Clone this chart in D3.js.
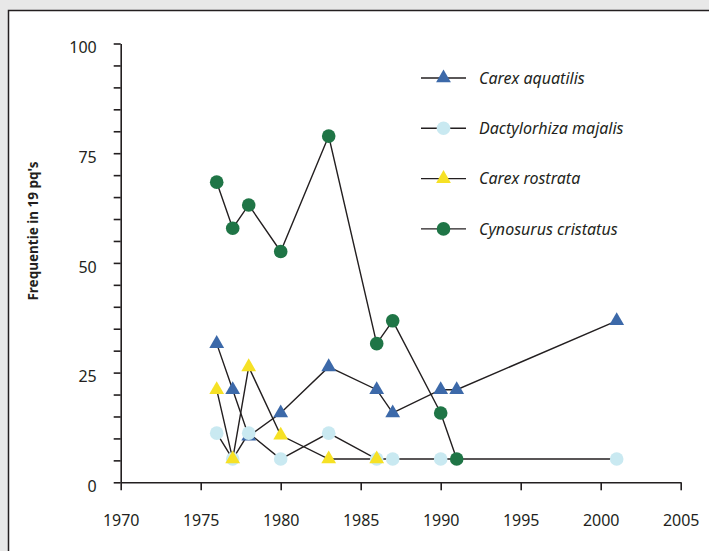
<!DOCTYPE html>
<html>
<head>
<meta charset="utf-8">
<script src="https://cdn.jsdelivr.net/npm/d3@7"></script>
<style>
  body { margin: 0; background: #e8e8e8; }
  svg { display: block; }
</style>
</head>
<body>
<div id="chart"></div>
<script>
// data (frequency in 19 permanent quadrats)
const seriesNames = ["Carex aquatilis", "Dactylorhiza majalis", "Carex rostrata", "Cynosurus cristatus"];
const aquatilisYears = [1976, 1977, 1978, 1980, 1983, 1986, 1987, 1990, 1991, 2001];
const aquatilisValues = [31.6, 21.1, 10.5, 15.8, 26.3, 21.1, 15.8, 21.1, 21.1, 36.8];
const majalisYears = [1976, 1977, 1978, 1980, 1983, 1986, 1987, 1990, 2001];
const majalisValues = [11.2, 5.3, 11.2, 5.3, 11.2, 5.3, 5.3, 5.3, 5.3];
const rostrataYears = [1976, 1977, 1978, 1980, 1983, 1986];
const rostrataValues = [21.1, 5.3, 26.3, 10.7, 5.3, 5.3];
const cristatusYears = [1976, 1977, 1978, 1980, 1983, 1986, 1987, 1990, 1991];
const cristatusValues = [68.4, 57.9, 63.2, 52.6, 78.9, 31.6, 36.8, 15.8, 5.3];
const xTicks = [1970, 1975, 1980, 1985, 1990, 1995, 2000, 2005];
const yTicks = [0, 25, 50, 75, 100];

const width = 709, height = 551;
const ink = "#231f20";

const series = [
  { name: seriesNames[0], years: aquatilisYears, values: aquatilisValues, shape: "triangle", color: "#3c69a9" },
  { name: seriesNames[1], years: majalisYears, values: majalisValues, shape: "circle", color: "#c9e9f1" },
  { name: seriesNames[2], years: rostrataYears, values: rostrataValues, shape: "triangle", color: "#f6e125" },
  { name: seriesNames[3], years: cristatusYears, values: cristatusValues, shape: "circle", color: "#1f7546" }
].map(s => ({ ...s, points: s.years.map((y, i) => ({ year: y, value: s.values[i] })) }));

const svg = d3.select("#chart").append("svg")
  .attr("width", width)
  .attr("height", height);

// white panel with dark frame on grey page
svg.append("rect")
  .attr("x", 8.5).attr("y", 10.5)
  .attr("width", width).attr("height", height)
  .attr("fill", "#fff")
  .attr("stroke", ink)
  .attr("stroke-width", 1.5);

const x = d3.scaleLinear().domain([1970, 2005]).range([120.7, 680.7]);
const y = d3.scaleLinear().domain([0, 100]).range([482.3, 43.5]);

const font = "'Noto Sans', 'Open Sans', sans-serif";

// y axis: ticks every 5, labels every 25
const yAxis = d3.axisLeft(y)
  .tickValues(d3.range(0, 101, 5))
  .tickSize(7)
  .tickSizeOuter(0)
  .tickFormat(d => yTicks.includes(d) ? d : "");
const gy = svg.append("g")
  .attr("transform", `translate(${x(1970)},0)`)
  .call(yAxis);
gy.selectAll("text")
  .attr("x", -24)
  .attr("y", 4)
  .style("font-family", font)
  .style("font-size", "16px")
  .attr("fill", ink);

const xAxis = d3.axisBottom(x)
  .tickValues(xTicks)
  .tickSize(8)
  .tickSizeOuter(0)
  .tickFormat(d3.format("d"));
const gx = svg.append("g")
  .attr("transform", `translate(0,${y(0)})`)
  .call(xAxis);
gx.selectAll("text")
  .attr("y", 32)
  .style("font-family", font)
  .style("font-size", "16px")
  .attr("fill", ink);

[gx, gy].forEach(g => {
  g.selectAll("path, line").attr("stroke", ink).attr("stroke-width", 1.6);
});

svg.append("text")
  .attr("transform", `translate(38,231) rotate(-90)`)
  .attr("text-anchor", "middle")
  .style("font-family", font)
  .style("font-size", "13.5px")
  .style("font-weight", "bold")
  .attr("fill", ink)
  .text("Frequentie in 19 pq's");

// lines
const line = d3.line().x(d => x(d.year)).y(d => y(d.value));
svg.append("g").selectAll("path")
  .data(series)
  .join("path")
  .attr("d", d => line(d.points))
  .attr("fill", "none")
  .attr("stroke", ink)
  .attr("stroke-width", 1.4);

const triangle = d3.symbol().type(d3.symbolTriangle).size(95);
const drawMarker = (g, s) => {
  if (s.shape === "circle") {
    g.append("circle").attr("r", 6.8).attr("fill", s.color);
  } else {
    g.append("path").attr("d", triangle()).attr("fill", s.color);
  }
};

// markers, series drawn in order
series.forEach(s => {
  svg.append("g").selectAll("g")
    .data(s.points)
    .join("g")
    .attr("transform", d => `translate(${x(d.year)},${y(d.value)})`)
    .each(function () { drawMarker(d3.select(this), s); });
});

// legend
const legend = svg.append("g").attr("transform", "translate(421,78)");
series.forEach((s, i) => {
  const row = legend.append("g").attr("transform", `translate(0,${i * 50.3})`);
  row.append("line")
    .attr("x1", 0).attr("x2", 45)
    .attr("stroke", ink)
    .attr("stroke-width", 1.4);
  drawMarker(row.append("g").attr("transform", "translate(22.5,0)"), s);
  row.append("text")
    .attr("x", 58)
    .attr("dy", "0.35em")
    .style("font-family", font)
    .style("font-size", "16px")
    .style("font-style", "italic")
    .attr("fill", ink)
    .text(s.name);
});
</script>
</body>
</html>
